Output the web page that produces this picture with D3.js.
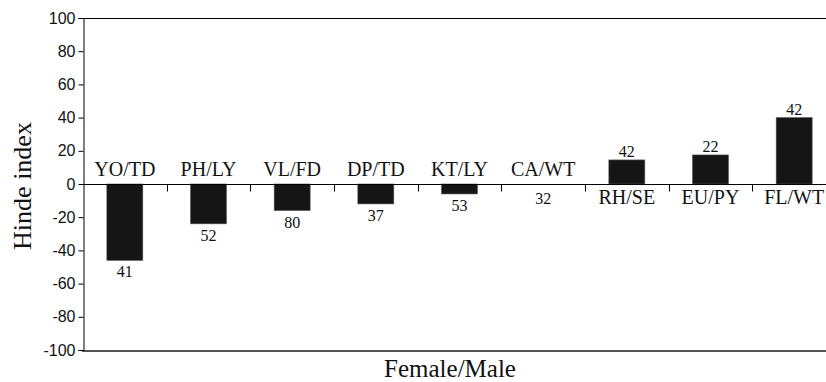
<!DOCTYPE html>
<html>
<head>
<meta charset="utf-8">
<script src="https://cdn.jsdelivr.net/npm/d3@7/dist/d3.min.js"></script>
<style>
  html, body { margin: 0; padding: 0; background: #fff; overflow: hidden; }
  svg { display: block; }
</style>
</head>
<body>
<svg id="chart" width="826" height="382"></svg>
<script>
const categories = ["YO/TD", "PH/LY", "VL/FD", "DP/TD", "KT/LY", "CA/WT", "RH/SE", "EU/PY", "FL/WT"];
const hindeValues = [-46, -24, -16, -12, -6, 0, 14.5, 17.5, 40];
const sampleSizes = [41, 52, 80, 37, 53, 32, 42, 22, 42];
const yTickValues = [-100, -80, -60, -40, -20, 0, 20, 40, 60, 80, 100];

(function () {
const svg = d3.select("#chart");
const mLeft = 83, mRight = 836, mTop = 18, mBottom = 350;

const xBand = d3.scaleBand().domain(categories).range([mLeft, mRight]).paddingInner(0.57).paddingOuter(0.285);
const xCell = d3.scaleBand().domain(categories).range([mLeft, mRight]).padding(0);
const y = d3.scaleLinear().domain([-100, 100]).range([mBottom, mTop]);

// top frame line
svg.append("line").attr("x1", mLeft).attr("x2", 826).attr("y1", y(100) + 0.5).attr("y2", y(100) + 0.5)
  .attr("stroke", "#000").attr("stroke-width", 1);
// bottom line (gray, thicker)
svg.append("line").attr("x1", mLeft - 1).attr("x2", 826).attr("y1", y(-100) + 1).attr("y2", y(-100) + 1)
  .attr("stroke", "#555").attr("stroke-width", 2);

// y axis
const yAxis = d3.axisLeft(y).tickValues(yTickValues).tickSize(5).tickPadding(3).tickFormat(d => String(d));
const gy = svg.append("g").attr("transform", `translate(${mLeft + 0.5},0)`).call(yAxis);
gy.select(".domain").attr("stroke", "#000");
gy.selectAll(".tick line").attr("stroke", "#000");
gy.selectAll(".tick text").attr("font-family", "Liberation Sans, Arial, sans-serif").attr("font-size", 16).attr("fill", "#111");

// bars
svg.append("g").selectAll("rect").data(categories).join("rect")
  .attr("x", d => xBand(d))
  .attr("width", xBand.bandwidth())
  .attr("y", (d, i) => y(Math.max(0, hindeValues[i])))
  .attr("height", (d, i) => Math.abs(y(hindeValues[i]) - y(0)))
  .attr("fill", "#151515")
  .attr("stroke", "#555").attr("stroke-width", 0.6);

// zero line with downward ticks at category boundaries
const zeroY = Math.round(y(0)) + 0.5;
svg.append("line").attr("x1", mLeft).attr("x2", 826).attr("y1", zeroY).attr("y2", zeroY)
  .attr("stroke", "#000").attr("stroke-width", 1);
svg.append("g").selectAll("line").data(categories.slice(1)).join("line")
  .attr("x1", d => Math.round(xCell(d)) + 0.5).attr("x2", d => Math.round(xCell(d)) + 0.5)
  .attr("y1", zeroY).attr("y2", zeroY + 7)
  .attr("stroke", "#000").attr("stroke-width", 1);

const serif = "Liberation Serif, Times New Roman, serif";
const cx = d => xBand(d) + xBand.bandwidth() / 2;

// category labels
svg.append("g").selectAll("text").data(categories).join("text")
  .attr("x", d => cx(d))
  .attr("y", (d, i) => hindeValues[i] > 0 ? y(0) + 20 : y(0) - 8)
  .attr("text-anchor", "middle")
  .attr("font-family", serif).attr("font-size", 20).attr("fill", "#111")
  .text(d => d);

// sample-size labels
svg.append("g").selectAll("text").data(categories).join("text")
  .attr("x", d => cx(d))
  .attr("y", (d, i) => hindeValues[i] > 0 ? y(hindeValues[i]) - 3 : (hindeValues[i] < 0 ? y(hindeValues[i]) + 17 : y(0) + 20))
  .attr("text-anchor", "middle")
  .attr("font-family", serif).attr("font-size", 16).attr("fill", "#111")
  .text((d, i) => sampleSizes[i]);

// axis titles
svg.append("text")
  .attr("transform", `translate(31,186) rotate(-90)`)
  .attr("text-anchor", "middle")
  .attr("font-family", serif).attr("font-size", 26).attr("fill", "#111")
  .text("Hinde index");

svg.append("text")
  .attr("x", 450).attr("y", 377)
  .attr("text-anchor", "middle")
  .attr("font-family", serif).attr("font-size", 25).attr("fill", "#111")
  .text("Female/Male");
})();
</script>
</body>
</html>
